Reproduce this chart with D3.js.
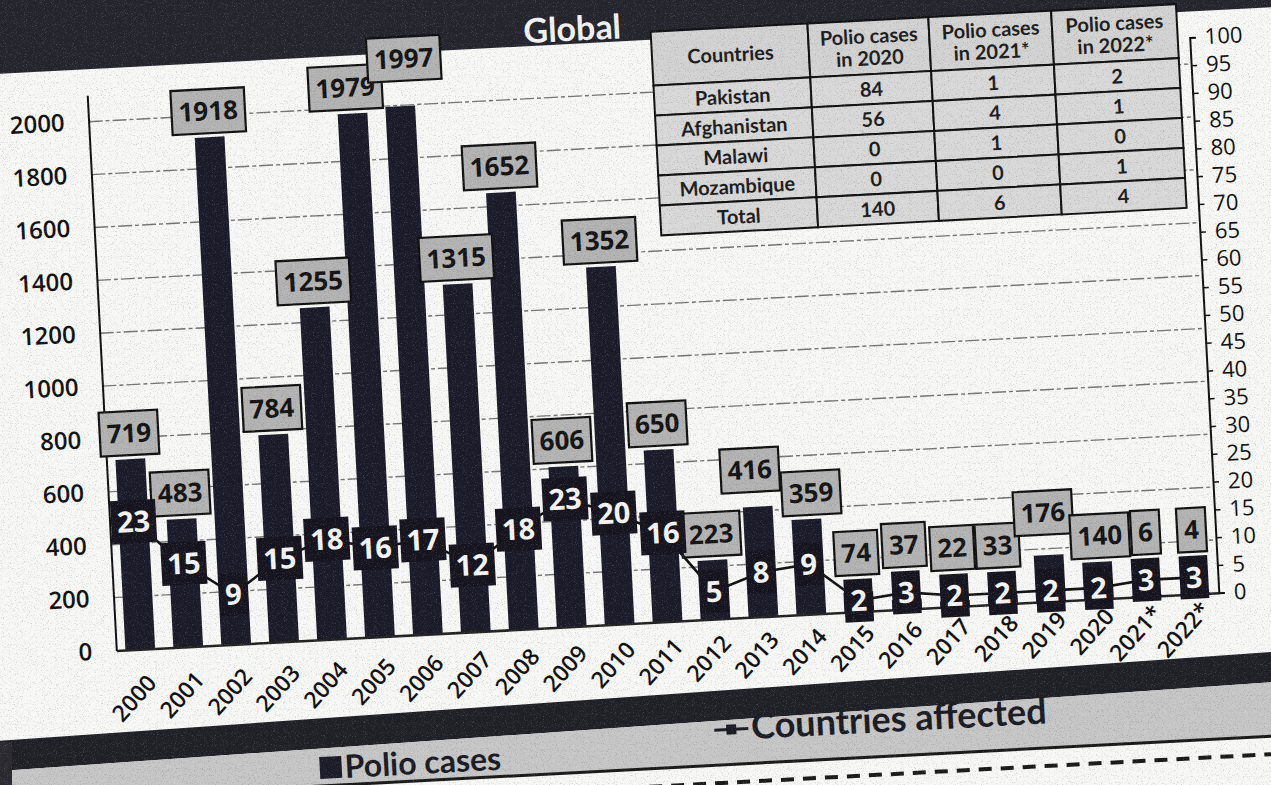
<!DOCTYPE html>
<html>
<head>
<meta charset="utf-8">
<script src="https://cdn.jsdelivr.net/npm/d3@7"></script>
<style>
  html, body { margin: 0; padding: 0; background: #f7f7f5; }
  svg { display: block; }
</style>
</head>
<body>
<svg id="chart" width="1271" height="785"></svg>
<script>
// chart data
const years = ["2000","2001","2002","2003","2004","2005","2006","2007","2008","2009","2010",
  "2011","2012","2013","2014","2015","2016","2017","2018","2019","2020","2021*","2022*"]
const polioCases = [719, 483, 1918, 784, 1255, 1979, 1997, 1315, 1652, 606, 1352,
  650, 223, 416, 359, 74, 37, 22, 33, 176, 140, 6, 4]
const countriesAffected = [23, 15, 9, 15, 18, 16, 17, 12, 18, 23, 20,
  16, 5, 8, 9, 2, 3, 2, 2, 2, 2, 3, 3]
const leftTicks = d3.range(0, 2001, 200)
const rightTicks = d3.range(0, 101, 5)

// inset table
const tableHeader = [["Countries"], ["Polio cases", "in 2020"], ["Polio cases", "in 2021*"], ["Polio cases", "in 2022*"]]
const tableCountries = ["Pakistan", "Afghanistan", "Malawi", "Mozambique", "Total"]
const cases2020 = [84, 56, 0, 0, 140]
const cases2021 = [1, 4, 1, 0, 6]
const cases2022 = [2, 1, 0, 1, 4]

const legendBars = "Polio cases"
const legendLine = "Countries affected"
const title = "Global"

/*
Layout
*/
const svg = d3.select("#chart")
const plot = {left: 101, right: 1205, top: 66, bottom: 622}
const tilt = -3, pivotX = 653, pivotY = 344   // the photocopy is slightly skewed

const defs = svg.append("defs")
const grain = defs.append("filter").attr("id", "grain").attr("x", 0).attr("y", 0).attr("width", 1).attr("height", 1)
grain.append("feTurbulence").attr("type", "fractalNoise").attr("baseFrequency", 0.85).attr("numOctaves", 2).attr("seed", 7)
grain.append("feColorMatrix").attr("type", "matrix")
  .attr("values", "0 0 0 0 0  0 0 0 0 0  0 0 0 0 0  3.2 0 0 0 -1.75")
const grainLight = defs.append("filter").attr("id", "grainLight").attr("x", 0).attr("y", 0).attr("width", 1).attr("height", 1)
grainLight.append("feTurbulence").attr("type", "fractalNoise").attr("baseFrequency", 0.9).attr("numOctaves", 2).attr("seed", 21)
grainLight.append("feColorMatrix").attr("type", "matrix")
  .attr("values", "0 0 0 0 1  0 0 0 0 1  0 0 0 0 1  3.4 0 0 0 -1.9")

const g = svg.append("g").attr("transform", `rotate(${tilt},${pivotX},${pivotY})`)

// title band
g.append("rect").attr("x", -300).attr("y", -400).attr("width", 1900).attr("height", 440).attr("fill", "#25252d")
g.append("text").attr("x", 540).attr("y", 37).text(title)
  .attr("font-family", "Lato, sans-serif").attr("font-weight", 700).attr("font-size", 34).attr("fill", "#f2f2f2")

// scales
const x = d3.scaleBand().domain(years).range([plot.left, plot.right]).padding(0)
const barW = x.bandwidth() * 0.62
const yL = d3.scaleLinear().domain([0, 2100]).range([plot.bottom, plot.top])
const yR = d3.scaleLinear().domain([0, 100]).range([plot.bottom, plot.top])
const cx = d => x(d) + x.bandwidth() / 2

// gridlines
g.append("g").selectAll("line").data(leftTicks.filter(t => t > 0)).join("line")
  .attr("x1", plot.left).attr("x2", plot.right)
  .attr("y1", d => yL(d)).attr("y2", d => yL(d))
  .attr("stroke", "#4a4a4a").attr("stroke-width", 1.4).attr("stroke-dasharray", "14 3 4 3").attr("opacity", 0.75)

// left axis
const axL = g.append("g").attr("transform", `translate(${plot.left},0)`)
  .call(d3.axisLeft(yL).tickValues(leftTicks).tickFormat(d3.format("d")).tickSize(0).tickPadding(24))
axL.select(".domain").attr("stroke", "#111").attr("stroke-width", 2)
axL.selectAll("text").attr("font-family", "'Open Sans', sans-serif").attr("font-weight", 600)
  .attr("font-size", 24).attr("fill", "#111")

// right axis
const axR = g.append("g").attr("transform", `translate(${plot.right},0)`)
  .call(d3.axisRight(yR).tickValues(rightTicks).tickSize(6).tickPadding(9))
axR.select(".domain").attr("stroke", "#111").attr("stroke-width", 2)
axR.selectAll("line").attr("stroke", "#111").attr("stroke-width", 1.5)
axR.selectAll("text").attr("font-family", "'Open Sans', sans-serif").attr("font-weight", 400)
  .attr("font-size", 22).attr("fill", "#111")

// bars
g.append("g").selectAll("rect").data(polioCases).join("rect")
  .attr("x", (d, i) => cx(years[i]) - barW / 2)
  .attr("width", barW)
  .attr("y", d => yL(d))
  .attr("height", d => plot.bottom - yL(d))
  .attr("fill", "#1c1b2a")

// bottom axis (labels drift up to the right, like the photographed page)
const axB = g.append("g").attr("transform", `translate(0,${plot.bottom})`)
  .call(d3.axisBottom(x).tickSize(0))
axB.select(".domain").attr("stroke", "#222").attr("stroke-width", 2.5)
axB.selectAll("text")
  .each(function (d, i, nodes) {
    const off = 30 - 18 * i / (nodes.length - 1)
    d3.select(this).attr("x", 10).attr("y", off).attr("dy", "0.35em")
      .attr("transform", `rotate(-45,10,${off})`)
  })
  .style("text-anchor", "end")
  .attr("font-family", "'Open Sans', sans-serif").attr("font-weight", 600)
  .attr("font-size", 23).attr("fill", "#111")

// gray value labels for bars
const boxH = 44, darkH = 43
const grayLbl = g.append("g").selectAll("g").data(polioCases).join("g")
grayLbl.append("rect")
grayLbl.append("text").text(d => d)
  .attr("font-family", "'Open Sans', sans-serif").attr("font-weight", 700).attr("font-size", 26)
  .attr("fill", "#141414").attr("text-anchor", "middle").attr("dy", "0.35em")

const boxes = []
grayLbl.each(function (d, i) {
  const w = d3.select(this).select("text").node().getComputedTextLength() + 14
  const darkTop = yR(countriesAffected[i]) - darkH / 2
  const bottom = Math.min(yL(d), darkTop) - 4
  boxes.push({x0: cx(years[i]) - w / 2, w: w, bottom: bottom, v: d})
})
// resolve overlapping neighbours: small overlaps slide apart, larger ones lift the taller bar's label
for (let i = 1; i < boxes.length; i++) {
  const a = boxes[i - 1], b = boxes[i]
  const xOver = a.x0 + a.w - b.x0
  const yOverlap = a.bottom > b.bottom - boxH && b.bottom > a.bottom - boxH
  if (xOver > 0 && yOverlap) {
    if (xOver <= 8) {
      a.x0 -= xOver / 2 + 1
      b.x0 += xOver / 2 + 1
    } else {
      if (b.v >= a.v) b.bottom = a.bottom - boxH + 18
      else a.bottom = b.bottom - boxH + 18
      a.x0 -= 6
      b.x0 += 6
    }
  }
}
grayLbl.select("rect")
  .attr("x", (d, i) => boxes[i].x0).attr("width", (d, i) => boxes[i].w)
  .attr("y", (d, i) => boxes[i].bottom - boxH).attr("height", boxH)
  .attr("fill", "#b3b3b3").attr("stroke", "#111").attr("stroke-width", 2.2)
grayLbl.select("text")
  .attr("x", (d, i) => boxes[i].x0 + boxes[i].w / 2)
  .attr("y", (d, i) => boxes[i].bottom - boxH / 2)

// countries affected line
const line = d3.line().x((d, i) => cx(years[i])).y(d => yR(d))
g.append("path").datum(countriesAffected).attr("d", line)
  .attr("fill", "none").attr("stroke", "#111").attr("stroke-width", 2.6)

// dark value labels on the line
const darkLbl = g.append("g").selectAll("g").data(countriesAffected).join("g")
darkLbl.append("rect")
darkLbl.append("text").text(d => d)
  .attr("x", (d, i) => cx(years[i])).attr("y", d => yR(d)).attr("dy", "0.36em")
  .attr("text-anchor", "middle")
  .attr("font-family", "'Open Sans', sans-serif").attr("font-weight", 700).attr("font-size", 29)
  .attr("fill", "#f4f4f4")
darkLbl.each(function (d, i) {
  const sel = d3.select(this)
  const w = sel.select("text").node().getComputedTextLength() + 12
  sel.select("rect")
    .attr("x", cx(years[i]) - w / 2).attr("width", w)
    .attr("y", yR(d) - darkH / 2).attr("height", darkH)
    .attr("fill", "#16151f")
})

// inset table
const colW = [157, 121, 123, 125]
const colX = [0, 157, 278, 401]
const headH = 54, rowH = 30
const tbl = g.append("g").attr("transform", "translate(667,32)")
const tableFont = sel => sel.attr("font-family", "Lato, sans-serif").attr("font-weight", 700)
  .attr("font-size", 20).attr("fill", "#1d1d1d").attr("text-anchor", "middle")

tbl.selectAll("rect.head").data(tableHeader).join("rect").attr("class", "head")
  .attr("x", (d, i) => colX[i]).attr("y", 0).attr("width", (d, i) => colW[i]).attr("height", headH)
  .attr("fill", "#d2d2d2").attr("stroke", "#111").attr("stroke-width", 2)
tbl.selectAll("text.head").data(tableHeader).join("text").attr("class", "head")
  .call(tableFont)
  .each(function (d, i) {
    const t = d3.select(this)
    d.forEach((s, k) => {
      t.append("tspan").attr("x", colX[i] + colW[i] / 2)
        .attr("y", headH / 2 + (k - (d.length - 1) / 2) * 22).attr("dy", "0.35em").text(s)
    })
  })

const tableCols = [tableCountries, cases2020, cases2021, cases2022]
tableCols.forEach((col, c) => {
  tbl.append("g").selectAll("rect").data(col).join("rect")
    .attr("x", colX[c]).attr("y", (d, r) => headH + r * rowH)
    .attr("width", colW[c]).attr("height", rowH)
    .attr("fill", "#d8d8d8").attr("stroke", "#111").attr("stroke-width", 2)
  tbl.append("g").selectAll("text").data(col).join("text")
    .call(tableFont)
    .attr("x", colX[c] + colW[c] / 2).attr("y", (d, r) => headH + r * rowH + rowH / 2)
    .attr("dy", "0.36em").text(d => d)
})

// legend strip: dark band, gray strip, rule and dashed rule
g.append("polygon").attr("points", "-300,711 1600,678 1600,708 -300,741").attr("fill", "#202027")
g.append("polygon").attr("points", "-300,741 1600,708 1600,768 -300,768").attr("fill", "#c6c6c6")
g.append("line").attr("x1", -300).attr("x2", 1600).attr("y1", 768).attr("y2", 768)
  .attr("stroke", "#1a1a1a").attr("stroke-width", 3)
g.append("line").attr("x1", 560).attr("x2", 1600).attr("y1", 786).attr("y2", 786)
  .attr("stroke", "#1a1a1a").attr("stroke-width", 4).attr("stroke-dasharray", "13 9")

const legendFont = sel => sel.attr("font-family", "Lato, sans-serif").attr("font-weight", 700)
  .attr("fill", "#1b1b24")
g.append("rect").attr("x", 298).attr("y", 739).attr("width", 22).attr("height", 22).attr("fill", "#1c1b2a")
g.append("text").attr("x", 323).attr("y", 750).attr("dy", "0.35em").text(legendBars)
  .call(legendFont).attr("font-size", 32)
g.append("line").attr("x1", 694).attr("x2", 728).attr("y1", 733).attr("y2", 733)
  .attr("stroke", "#1b1b24").attr("stroke-width", 3)
g.append("rect").attr("x", 706).attr("y", 728).attr("width", 10).attr("height", 10).attr("fill", "#1b1b24")
g.append("text").attr("x", 731).attr("y", 731).attr("dy", "0.35em").text(legendLine)
  .call(legendFont).attr("font-size", 36)

// left page edge shadow
svg.append("rect").attr("x", 0).attr("y", 742).attr("width", 12).attr("height", 43).attr("fill", "#2a2a30")

// photocopy grain
svg.append("rect").attr("width", 1271).attr("height", 785).attr("filter", "url(#grain)").attr("opacity", 0.16)
svg.append("rect").attr("width", 1271).attr("height", 785).attr("filter", "url(#grainLight)").attr("opacity", 0.18)
</script>
</body>
</html>
